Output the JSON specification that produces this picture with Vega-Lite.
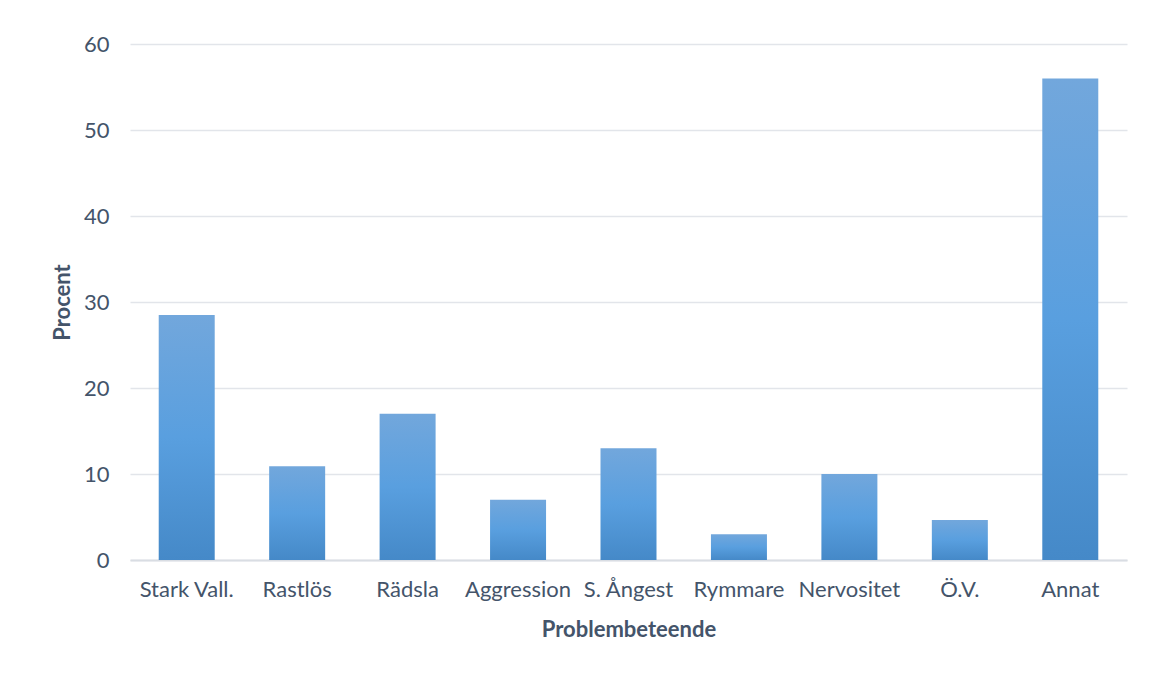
{
  "$schema": "https://vega.github.io/schema/vega-lite/v6.json",
  "width": 997,
  "height": 516,
  "autosize": {"type": "none"},
  "padding": {"left": 130, "top": 44, "right": 27, "bottom": 115},
  "background": "white",
  "data": {
    "values": [
      {"kategori": "Stark Vall.", "procent": 28.5},
      {"kategori": "Rastlös", "procent": 10.9},
      {"kategori": "Rädsla", "procent": 17.0},
      {"kategori": "Aggression", "procent": 7.0},
      {"kategori": "S. Ångest", "procent": 13.0},
      {"kategori": "Rymmare", "procent": 3.0},
      {"kategori": "Nervositet", "procent": 10.0},
      {"kategori": "Ö.V.", "procent": 4.65},
      {"kategori": "Annat", "procent": 56.0}
    ]
  },
  "mark": {
    "type": "bar",
    "fill": {
      "gradient": "linear",
      "x1": 0, "y1": 0, "x2": 0, "y2": 1,
      "stops": [
        {"offset": 0, "color": "#72a7dc"},
        {"offset": 0.5, "color": "#599fdf"},
        {"offset": 1, "color": "#4589c8"}
      ]
    }
  },
  "encoding": {
    "x": {
      "field": "kategori",
      "type": "nominal",
      "sort": null,
      "scale": {"paddingInner": 0.493, "paddingOuter": 0.26},
      "axis": {
        "title": "Problembeteende",
        "labelAngle": 0,
        "ticks": false,
        "domain": true,
        "domainColor": "#d9dde3",
        "domainWidth": 2,
        "labelPadding": 19,
        "titlePadding": 19
      }
    },
    "y": {
      "field": "procent",
      "type": "quantitative",
      "scale": {"domain": [0, 60], "nice": false},
      "axis": {
        "title": "Procent",
        "values": [0, 10, 20, 30, 40, 50, 60],
        "ticks": false,
        "domain": false,
        "grid": true,
        "gridColor": "#e2e5ea",
        "gridWidth": 1.3,
        "labelPadding": 21,
        "titlePadding": 9
      }
    }
  },
  "config": {
    "view": {"stroke": null},
    "axis": {
      "labelFont": "Lato",
      "labelFontSize": 22,
      "labelColor": "#44546a",
      "titleFont": "Lato",
      "titleFontSize": 22,
      "titleFontWeight": "bold",
      "titleColor": "#44546a"
    }
  }
}
